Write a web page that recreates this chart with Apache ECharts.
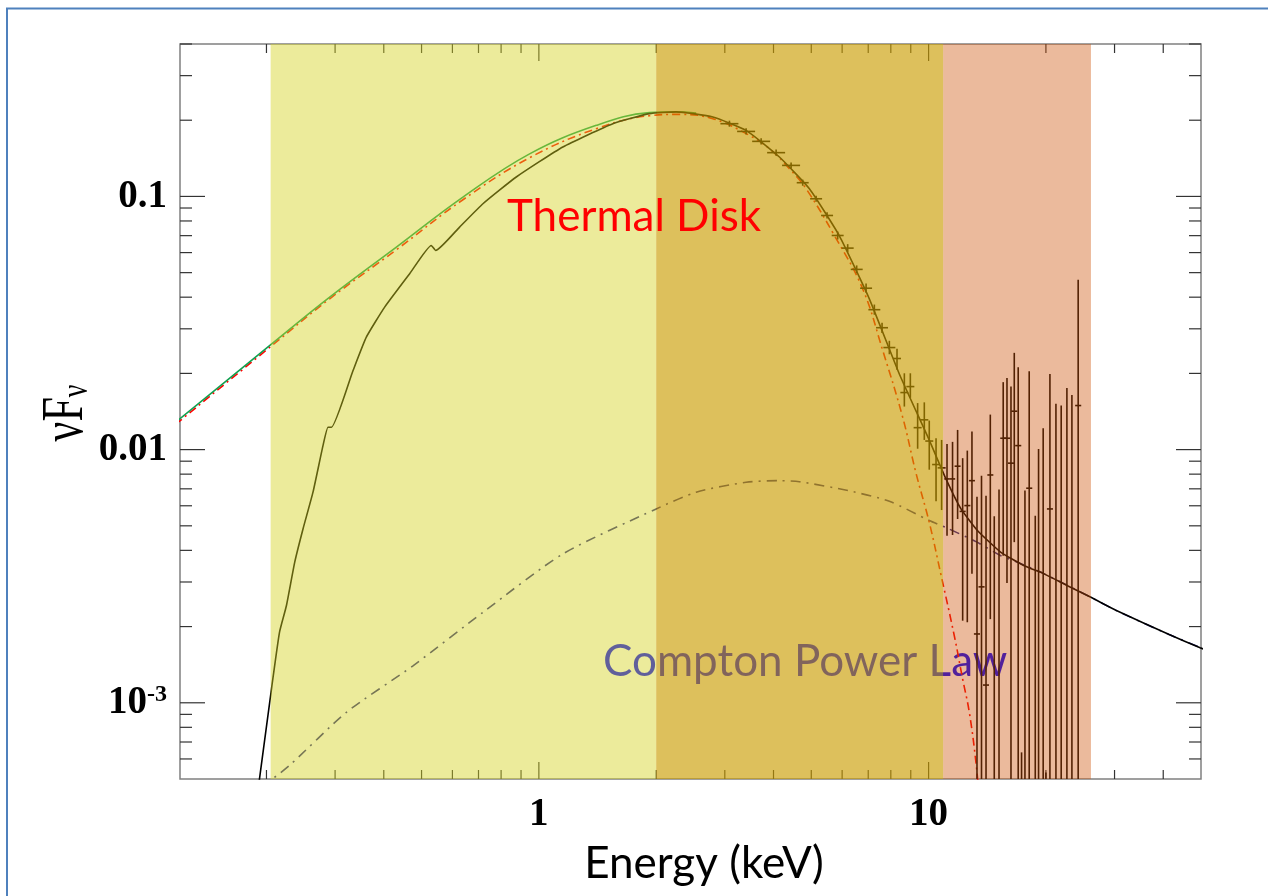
<!DOCTYPE html>
<html><head><meta charset="utf-8">
<script src="https://cdn.jsdelivr.net/npm/echarts@6/dist/echarts.min.js"></script>
<style>html,body{margin:0;padding:0;background:#fff}#c{width:1268px;height:896px}</style>
</head><body><div id="c"></div>
<script>
// ---------- data (energy in keV, flux nuFnu) ----------
const bandRanges = [[0.205, 2.0], [2.0, 10.9], [10.9, 26.1]];
const xMajorTicks = [1, 10];
const xMinorTicks = [0.2,0.3,0.4,0.5,0.6,0.7,0.8,0.9,2,3,4,5,6,7,8,9,20,30,40];
const yMajorTicks = [0.001, 0.01, 0.1];
const yMinorTicks = [6e-4,7e-4,8e-4,9e-4,0.002,0.003,0.004,0.005,0.006,0.007,0.008,0.009,
  0.02,0.03,0.04,0.05,0.06,0.07,0.08,0.09,0.2,0.3,0.4];
const xTickLabels = ['1', '10'];
const yTickLabels = ['10^-3', '0.01', '0.1'];

const absorbedModel = [
 [0.1889,4.16e-4],[0.206,1.133e-3],[0.216,1.898e-3],[0.225,2.417e-3],[0.2363,3.588e-3],
 [0.2482,4.86e-3],[0.2633,6.79e-3],[0.2793,0.01037],[0.2877,0.01226],[0.2938,0.01226],
 [0.3336,0.02053],[0.3608,0.02781],[0.4021,0.03654],[0.4661,0.0495],[0.5297,0.06404],
 [0.5434,0.06116],[0.626,0.07568],[0.7186,0.09356],[0.875,0.1193],[1.152,0.1568],
 [1.548,0.1937],[1.922,0.2123],[2.25,0.2157],[2.795,0.206],[3.402,0.1824],[4.142,0.1431],
 [4.945,0.1072],[5.902,0.0699],[7.046,0.0394],[8.412,0.0199],[10.04,0.0109],[11.08,0.00766],
 [12.11,0.00583],[13.36,0.00478],[15.33,0.00393],[17.6,0.00348],[19.8,0.00323],[22.72,0.0029],
 [26.09,0.00261],[30.23,0.00232],[41.42,0.00186],[49.74,0.00165],[52,0.00161]
];
const unabsorbedModel = [
 [0.117,0.01283],[0.2063,0.02616],[0.2906,0.04003],[0.4309,0.0631],[0.6385,0.09945],
 [0.9466,0.1473],[1.404,0.1909],[1.922,0.2142],[2.25,0.2157],[2.533,0.2133]
];
const diskModel = [
 [0.117,0.01259],[0.2063,0.02572],[0.2906,0.03942],[0.4309,0.06154],[0.6385,0.09705],
 [0.9466,0.1422],[1.404,0.1852],[1.922,0.2084],[2.295,0.2109],[2.795,0.2028],[3.47,0.1742],
 [3.905,0.1543],[4.394,0.1287],[4.85,0.1072],[5.731,0.0701],[6.772,0.0432],[7.626,0.02464],
 [8.579,0.01344],[9.284,0.00807],[10.04,0.00516],[10.76,0.0032],[11.64,0.00184],[12.23,0.00124],
 [12.72,0.000917],[13.23,0.000581],[13.49,0.000416]
];
const powerLawModel = [
 [0.1945,4.64e-4],[0.2295,5.67e-4],[0.3208,9.17e-4],[0.4753,1.4e-3],[0.7186,2.277e-3],
 [1.152,3.87e-3],[2.0,5.83e-3],[2.533,6.79e-3],[3.402,7.43e-3],[4.142,7.54e-3],[4.661,7.47e-3],
 [6.261,6.87e-3],[7.931,6.25e-3],[10.04,5.25e-3],[11.08,4.92e-3],[13.23,4.33e-3],[15.33,3.81e-3],
 [16.91,3.59e-3],[19.8,3.23e-3],[26.09,2.61e-3],[30.23,2.32e-3],[41.42,1.86e-3],[52,1.61e-3]
];
// [E, F, Elo, Ehi, Flo, Fhi]
const spectrumData = [
 [3.083,0.1938,2.923,3.251,0.1885,0.1992],[3.402,0.1806,3.226,3.588,0.1757,0.1857],
 [3.718,0.1650,3.526,3.921,0.1605,0.1696],[4.062,0.1489,3.852,4.284,0.1448,0.1531],
 [4.438,0.1326,4.208,4.680,0.1290,0.1363],[4.753,0.1133,4.588,4.924,0.1102,0.1165],
 [5.145,0.0979,4.966,5.330,0.0952,0.1006],[5.489,0.0841,5.298,5.687,0.0818,0.0865],
 [5.844,0.0701,5.641,6.054,0.0676,0.0727],[6.200,0.0625,5.985,6.423,0.0602,0.0648],
 [6.539,0.0515,6.312,6.774,0.0497,0.0534],[6.912,0.0434,6.672,7.161,0.0416,0.0453],
 [7.258,0.0357,7.006,7.519,0.0341,0.0374],[7.596,0.0303,7.332,7.869,0.0289,0.0317],
 [7.931,0.0253,7.655,8.217,0.0238,0.0269],[8.298,0.0229,8.104,8.497,0.02067,0.02502],
 [8.666,0.0168,8.463,8.874,0.01479,0.02002],[8.978,0.01774,8.768,9.193,0.01601,0.02002],
 [9.373,0.01221,9.153,9.598,0.01008,0.01527],[9.750,0.01311,9.521,9.984,0.01092,0.01537],
 [10.04,0.01081,9.805,10.28,0.00833,0.01302],[10.45,0.00873,10.21,10.70,0.00625,0.01109],
 [10.80,0.00847,10.55,11.06,0.00577,0.01092],
 [11.15,0.00766,10.97,11.34,0.00457,0.01053],[11.52,0.00766,11.34,11.70,0.00460,0.01073],
 [11.87,0.00860,11.66,12.08,0.00532,0.01196],[12.23,0.00570,12.01,12.45,0.00211,0.00925],
 [12.57,0.00601,12.35,12.80,0.00208,0.00991],[12.92,0.00754,12.69,13.15,0.00323,0.01178],
 [13.31,0.00187,13.07,13.55,0.0001,0.00652],[13.67,0.00287,13.43,13.92,0.0001,0.00789],
 [14.04,0.001175,13.79,14.29,0.0001,0.00658],[14.40,0.00794,14.15,14.66,0.00214,0.01375],
 [14.74,0.0003,14.48,15.01,0.0001,0.00545],[15.16,0.0003,14.89,15.43,0.0001,0.00695],
 [15.54,0.01109,15.27,15.82,0.00381,0.01847],[15.89,0.01109,15.61,16.18,0.00297,0.0192],
 [16.27,0.00884,15.98,16.56,0.0001,0.01774],[16.59,0.01418,16.30,16.89,0.00431,0.02411],
 [16.98,0.01037,16.68,17.29,0.0001,0.02117],[17.32,0.0003,17.01,17.63,0.0001,0.000637],
 [17.67,0.0003,17.36,17.99,0.0001,0.00689],[18.12,0.00704,17.80,18.45,0.0001,0.02041],
 [18.78,0.0003,18.45,19.12,0.0001,0.00548],[19.15,0.0003,18.81,19.50,0.0001,0.01006],
 [19.68,0.0003,19.33,20.03,0.0001,0.01215],[20.00,0.0003,19.65,20.36,0.0001,0.00053],
 [20.48,0.00583,20.12,20.85,0.0001,0.01991],[21.22,0.0003,20.84,21.60,0.0001,0.01516],
 [21.89,0.0003,21.50,22.28,0.0001,0.01493],[22.64,0.0003,22.24,23.05,0.0001,0.01753],
 [23.32,0.0003,22.91,23.74,0.0001,0.01645],[24.20,0.01493,23.77,24.64,0.0001,0.04686]
];

// ---------- chart ----------
const X_MIN = 0.12, X_MAX = 50, Y_MIN = 5e-4, Y_MAX = 0.4;
const bandColors = ['rgba(213,211,33,0.45)', 'rgba(202,157,0,0.64)', 'rgba(205,83,8,0.40)'];
const TICK = '#333';

function isPow10(v){ const e = Math.log10(v); return Math.abs(e - Math.round(e)) < 1e-6; }

function xTickRender(params, api){
  const cs = params.coordSys;
  const x = api.coord([api.value(0), api.value(1)])[0];
  const major = api.value(2) === 1;
  const len = major ? 17 : 9;
  const b = cs.y + cs.height, t = cs.y;
  return {type:'group', children:[
    {type:'line', shape:{x1:x, y1:b, x2:x, y2:b-len}, style:{stroke:TICK, lineWidth:1.2}},
    {type:'line', shape:{x1:x, y1:t, x2:x, y2:t+len}, style:{stroke:TICK, lineWidth:1.2}}
  ]};
}
function yTickRender(params, api){
  const cs = params.coordSys;
  const y = api.coord([api.value(0), api.value(1)])[1];
  const major = api.value(2) === 1;
  const len = major ? 25 : 12;
  const l = cs.x, r = cs.x + cs.width;
  return {type:'group', children:[
    {type:'line', shape:{x1:l, y1:y, x2:l+len, y2:y}, style:{stroke:TICK, lineWidth:1.2}},
    {type:'line', shape:{x1:r, y1:y, x2:r-len, y2:y}, style:{stroke:TICK, lineWidth:1.2}}
  ]};
}
function errRender(params, api){
  const e = api.value(0), f = api.value(1);
  const c = api.coord([e, f]);
  const lo = api.coord([e, api.value(4)]), hi = api.coord([e, api.value(5)]);
  const l = api.coord([api.value(2), f]), r = api.coord([api.value(3), f]);
  const st = {stroke:'#000', lineWidth:1.6};
  return {type:'group', children:[
    {type:'line', shape:{x1:c[0], y1:lo[1], x2:c[0], y2:hi[1]}, style:st},
    {type:'line', shape:{x1:l[0], y1:c[1], x2:r[0], y2:c[1]}, style:st}
  ]};
}
function bandRender(params, api){
  const cs = params.coordSys;
  const a = api.coord([api.value(0), api.value(2)]);
  const b = api.coord([api.value(1), api.value(2)]);
  return {type:'rect', shape:{x:a[0], y:cs.y, width:b[0]-a[0], height:cs.height},
    style:{fill: bandColors[params.dataIndex]}};
}

const lineCommon = {showSymbol:false, symbol:'none', clip:true, silent:true};

const option = {
  animation: false,
  backgroundColor: '#fff',
  grid: {left:180, right:67, top:44, bottom:117, show:true, borderColor:'#808080', borderWidth:1.5,
         containLabel:false, outerBoundsMode:'none'},
  xAxis: {type:'log', logBase:10, min:X_MIN, max:X_MAX,
    axisLine:{show:false}, axisTick:{show:false}, splitLine:{show:false}, minorTick:{show:false},
    axisLabel:{margin:16, color:'#000', fontFamily:'Liberation Serif', fontWeight:'bold', fontSize:39,
      formatter: v => { if (!isPow10(v)) return ''; const i = xMajorTicks.findIndex(t => Math.abs(t - v) / t < 1e-6); return i < 0 ? '' : xTickLabels[i]; }}},
  yAxis: {type:'log', logBase:10, min:Y_MIN, max:Y_MAX,
    axisLine:{show:false}, axisTick:{show:false}, splitLine:{show:false}, minorTick:{show:false},
    axisLabel:{margin:13, color:'#000',
      formatter: v => {
        if (!isPow10(v)) return '';
        const i = yMajorTicks.findIndex(t => Math.abs(t - v) / t < 1e-6);
        if (i < 0) return '';
        const s = yTickLabels[i];
        if (s.indexOf('^') >= 0) { const p = s.split('^'); return '{b|' + p[0] + '}{s|' + p[1] + '}'; }
        return '{b|' + s + '}';
      },
      rich:{
        b:{fontFamily:'Liberation Serif', fontWeight:'bold', fontSize:39, color:'#000'},
        s:{fontFamily:'Liberation Serif', fontWeight:'bold', fontSize:24, color:'#000', verticalAlign:'top'}
      }}},
  series: [
    {type:'custom', name:'xticks', z:3, clip:false, silent:true, renderItem:xTickRender,
     encode:{x:0, y:1},
     data: xMajorTicks.map(v => [v, 0.01, 1]).concat(xMinorTicks.map(v => [v, 0.01, 0]))},
    {type:'custom', name:'yticks', z:3, clip:false, silent:true, renderItem:yTickRender,
     encode:{x:0, y:1},
     data: yMajorTicks.map(v => [1, v, 1]).concat(yMinorTicks.map(v => [1, v, 0]))},
    Object.assign({type:'line', name:'Compton power law', z:4, data:powerLawModel, smooth:0.25,
     lineStyle:{color:'#2a2a80', width:1.6, type:[10,6,2,6]}}, lineCommon),
    Object.assign({type:'line', name:'Thermal disk', z:5, data:diskModel, smooth:0.4,
     lineStyle:{color:'#ff0000', width:1.6, type:[8,4,2,4]}}, lineCommon),
    Object.assign({type:'line', name:'Unabsorbed total', z:6, data:unabsorbedModel, smooth:0.4,
     lineStyle:{color:'#10a050', width:1.6}}, lineCommon),
    Object.assign({type:'line', name:'Absorbed total', z:7, data:absorbedModel, smooth:0.15,
     lineStyle:{color:'#000', width:1.6}}, lineCommon),
    {type:'custom', name:'data', z:8, clip:true, silent:true, renderItem:errRender,
     encode:{x:0, y:1}, data: spectrumData},
    {type:'custom', name:'bands', z:10, clip:true, silent:true, renderItem:bandRender,
     encode:{x:[0,1], y:2}, data: bandRanges.map(r => [r[0], r[1], 0.01])}
  ],
  graphic: [
    {type:'rect', z:0, silent:true, shape:{x:7, y:8.5, width:1300, height:1000},
     style:{fill:'none', stroke:'#4f81bd', lineWidth:2}},
    {type:'text', z:5, silent:true, x:603, y:662,
     style:{text:'Compton Power Law', fill:'#0000ff', font:'44px Lato', align:'left', verticalAlign:'middle',
            textAlign:'left', textVerticalAlign:'middle'}},
    {type:'text', z:30, silent:true, x:507, y:217,
     style:{text:'Thermal Disk', fill:'#ff0000', font:'44px Lato', align:'left', verticalAlign:'middle',
            textAlign:'left', textVerticalAlign:'middle'}},
    {type:'text', z:30, silent:true, x:704, y:864,
     style:{text:'Energy (keV)', fill:'#000', font:'44px Lato', align:'center', verticalAlign:'middle',
            textAlign:'center', textVerticalAlign:'middle'}},
    {type:'text', z:30, silent:true, x:66, y:413, rotation:Math.PI/2, scaleY:1.35,
     style:{text:'{a|νF}{s|ν}', align:'center', verticalAlign:'middle',
            textAlign:'center', textVerticalAlign:'middle',
            rich:{a:{fontFamily:'Liberation Serif', fontSize:44, fill:'#000', verticalAlign:'top'},
                  s:{fontFamily:'Liberation Serif', fontSize:28, fill:'#000', verticalAlign:'bottom'}}}}
  ]
};
const chart = echarts.init(document.getElementById('c'));
chart.setOption(option);
</script>
</body></html>
